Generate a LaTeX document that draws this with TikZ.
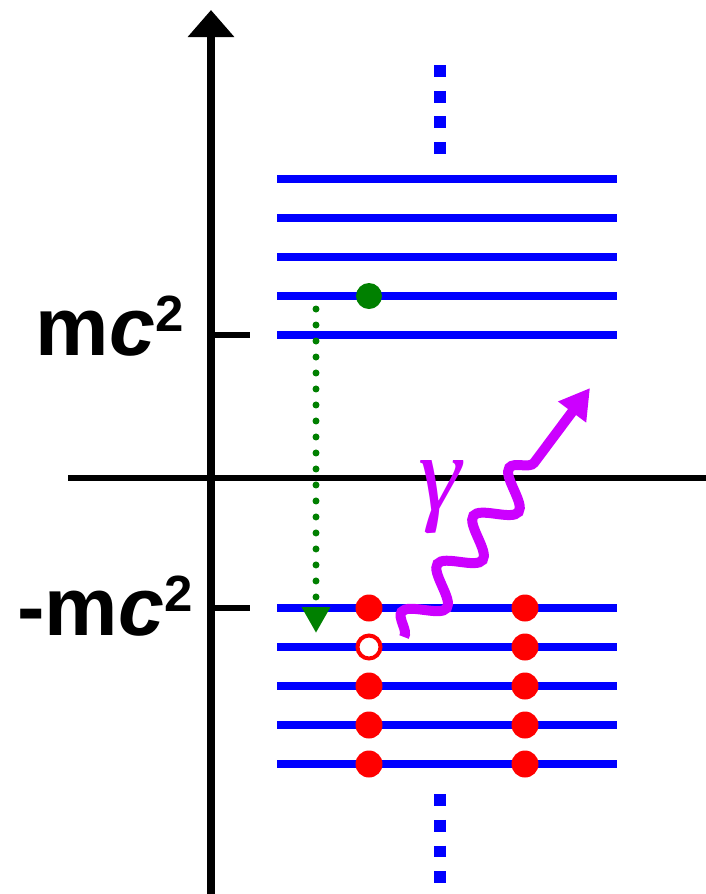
\documentclass[tikz,border=0pt]{standalone}
\usepackage{fontspec}
\setmainfont{Liberation Sans}
\newfontfamily\greekfont{Liberation Serif}
\usetikzlibrary{arrows.meta,decorations.pathmorphing}
\definecolor{photoncol}{RGB}{204,0,255}
\definecolor{darkgreen}{RGB}{0,128,0}
\newcommand{\sqr}{\raisebox{0.47cm}{\fontsize{29}{31}\selectfont 2}}

\begin{document}
\begin{tikzpicture}[x=0.02cm,y=-0.02cm,
      level/.style={blue,line width=4pt},
      axis/.style={line width=4pt},
      tick/.style={line width=3.5pt},
      electron/.style={circle,fill=red,inner sep=0pt,minimum size=0.54cm},
      hole/.style={circle,draw=red,fill=white,line width=0.08cm,inner sep=0pt,minimum size=0.46cm},
      excited/.style={circle,fill=darkgreen,inner sep=0pt,minimum size=0.52cm},
      energy label/.style={inner sep=0pt,anchor=base east,font=\bfseries\fontsize{47}{52}\selectfont},
      vdots/.style={blue,line width=0.24cm,dash pattern=on 0.24cm off 0.275cm},
      photon/.style={photoncol,line width=0.2cm,decorate,
        decoration={snake,segment length=1.2cm,amplitude=0.34cm,post length=1.3cm},
        -{Triangle[length=0.6cm,width=0.66cm]}}]
  \useasboundingbox (0,0) rectangle (706,894);

  % axes
  \coordinate (ybot) at (211,894);
  \coordinate (ytop) at (211,10);
  \coordinate (xleft) at (68,478);
  \coordinate (xright) at (706,478);
  \draw[axis,-{Triangle[length=0.54cm,width=0.9cm]}] (ybot) -- (ytop);
  \draw[line width=3.5pt] (xleft) -- (xright);

  % ticks and labels
  \coordinate (tp) at (250,335);
  \coordinate (tn) at (250,608);
  \draw[tick] (211,335) -- (tp);
  \draw[tick] (211,608) -- (tn);
  \node[energy label] (pos) at (184,355) {m\textit{c}\sqr};
  \node[energy label] (neg) at (193,635) {-m\textit{c}\sqr};

  % levels
  \foreach \y in {179,218,257,296,335,608,647,686,725,764}
    \draw[level] (277,\y) -- (617,\y);
  \draw[vdots] (440,65) -- (440,156);
  \draw[vdots] (440,794) -- (440,885);

  % electrons
  \foreach \y in {608,686,725,764} {
    \node[electron] at (369,\y) {};
  }
  \foreach \y in {608,647,686,725,764} {
    \node[electron] at (525,\y) {};
  }
  \node[hole] (h) at (369,647) {};
  \node[excited] (e) at (369,296) {};

  % transition
  \coordinate (dtop) at (316,309);
  \coordinate (dbot) at (316,633);
  \draw[darkgreen,line width=0.14cm,line cap=round,dash pattern=on 0pt off 0.32cm,
    -{Triangle[length=0.52cm,width=0.54cm]}] (dtop) -- (dbot);

  % photon
  \coordinate (pstart) at (404,637);
  \coordinate (pend) at (590,388);
  \draw[photon] (pstart) -- (pend);
  \node[text=photoncol,font=\greekfont\itshape\fontsize{62}{66}\selectfont] (gamma) at (440,497) {γ};
\end{tikzpicture}
\end{document}
